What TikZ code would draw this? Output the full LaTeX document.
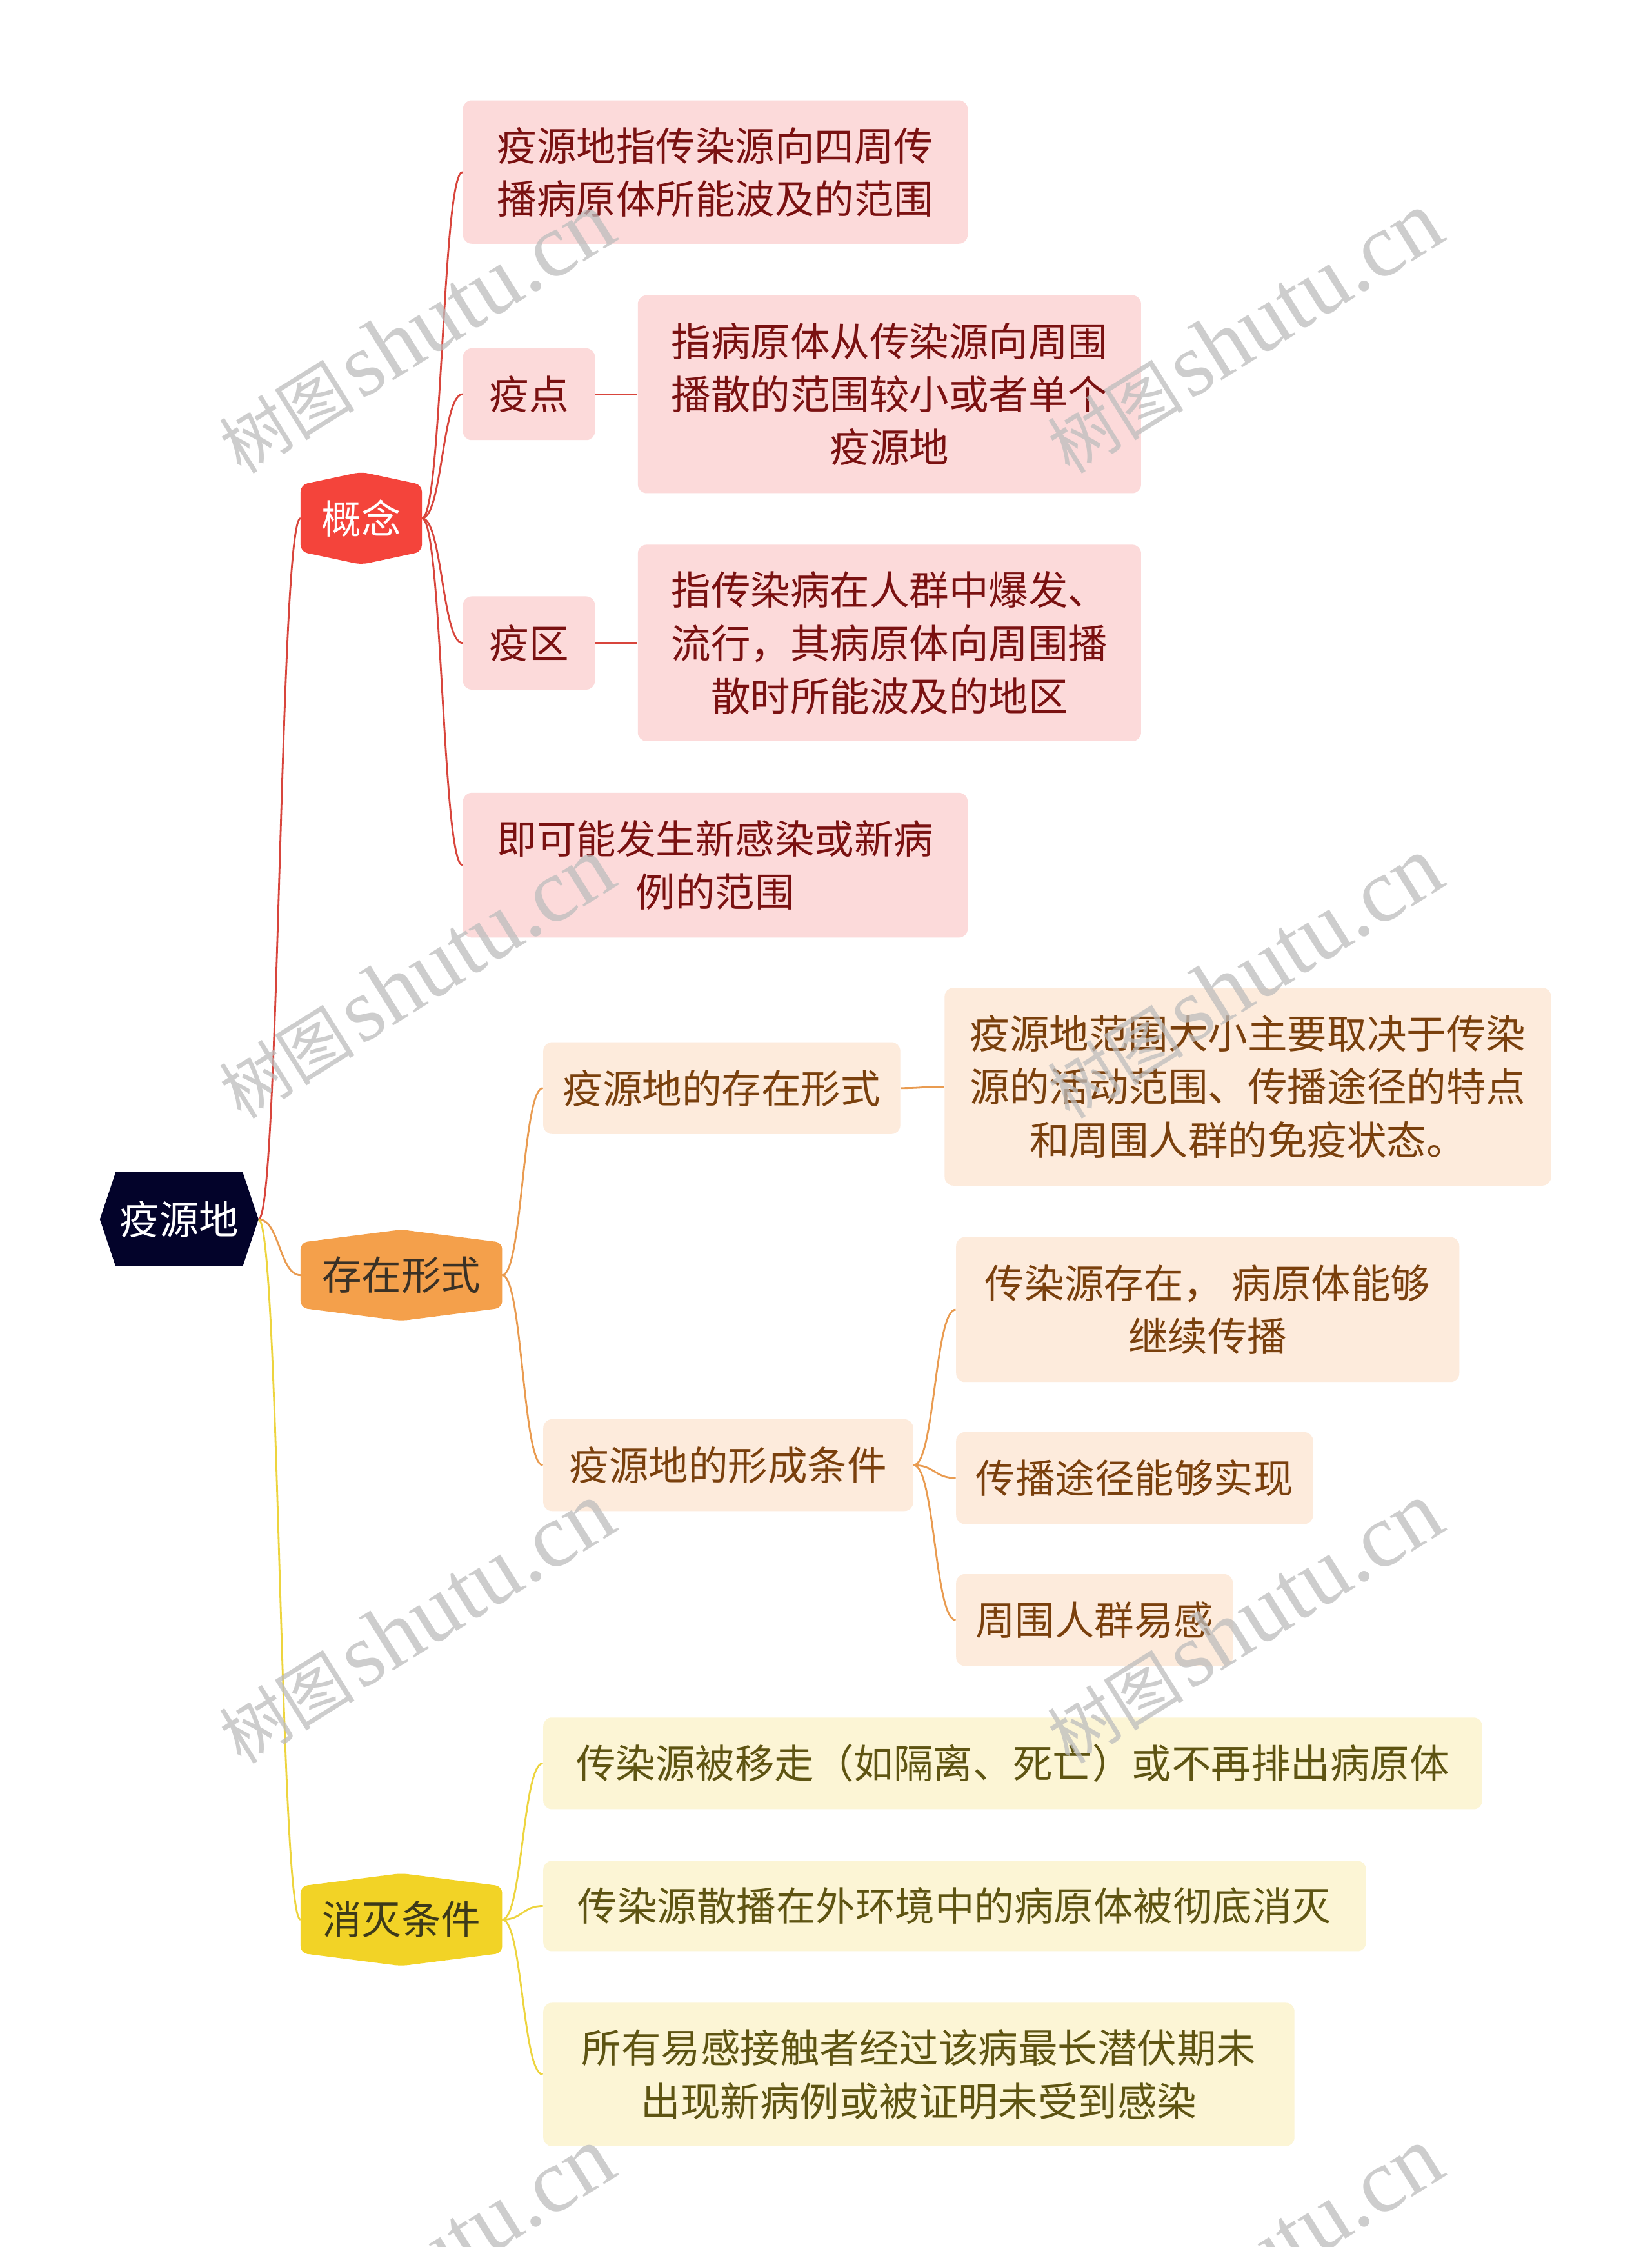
\documentclass[tikz,border=0pt]{standalone}
\usepackage{fontspec}
\setmainfont{Noto Sans CJK SC}
\newfontfamily\wmlatin{Liberation Serif}
\newfontfamily\wmcjk{Noto Sans CJK SC}
\usetikzlibrary{calc,backgrounds}
\newdimen\ux \ux=0.022222cm
\definecolor{rootfill}{HTML}{03032A}
\definecolor{redhex}{HTML}{F4443B}
\definecolor{pinkfill}{HTML}{FCDADA}
\definecolor{redtext}{HTML}{7A1111}
\definecolor{redline}{HTML}{D8453C}
\definecolor{orahex}{HTML}{F4A04B}
\definecolor{orahextext}{HTML}{3A3126}
\definecolor{orafill}{HTML}{FDEBDC}
\definecolor{oratext}{HTML}{7A400D}
\definecolor{oraline}{HTML}{E99B50}
\definecolor{yelhex}{HTML}{F2D326}
\definecolor{yelhextext}{HTML}{3D3A1A}
\definecolor{yelfill}{HTML}{FCF5D5}
\definecolor{yeltext}{HTML}{5E5412}
\definecolor{yelline}{HTML}{EDD43E}
\definecolor{wmgray}{HTML}{BDBDBD}
\tikzset{
  base/.style={inner sep=0pt, align=center, font=\fontsize{17.5pt}{23.4pt}\selectfont},
  sz/.style 2 args={minimum width=#1\ux, minimum height=#2\ux},
  pbox/.style={base, fill=pinkfill, text=redtext, rounded corners=6\ux},
  obox/.style={base, fill=orafill, text=oratext, rounded corners=6\ux},
  ybox/.style={base, fill=yelfill, text=yeltext, rounded corners=6\ux},
  rline/.style={draw=redline, line width=0.8pt},
  oline/.style={draw=oraline, line width=0.8pt},
  yline/.style={draw=yelline, line width=0.8pt},
  wm/.style={rotate=32, text=wmgray, opacity=0.75, inner sep=0pt}
}
\newcommand\conn[3]{\draw[#3] let \p1=(#1.east), \p2=(#2.west) in (\p1) .. controls ({(\x1+\x2)/2},\y1) and ({(\x1+\x2)/2},\y2) .. (\p2);}
\newcommand\hexv[3]{\fill[#2, rounded corners=3pt] (#1.north) -- ($(#1.north east)+(0,#3)$) -- ($(#1.south east)+(0,-#3)$) -- (#1.south) -- ($(#1.south west)+(0,-#3)$) -- ($(#1.north west)+(0,#3)$) -- cycle;}
\newcommand\wmtext{{\wmcjk\fontsize{30pt}{30pt}\selectfont 树图}\hspace{0.25em}{\wmlatin\fontsize{40pt}{40pt}\selectfont shutu.cn}}
\begin{document}
\begin{tikzpicture}[x=0.022222cm, y=-0.022222cm]
\useasboundingbox (0,0) rectangle (1152,1567.35);

% root and main topics
\node[base, sz={110}{65}, text=white] (R) at (125,850.5) {疫源地};
\node[base, sz={84}{64}, text=white] (K) at (252,361.5) {概念};
\node[base, sz={140}{63}, text=orahextext] (C) at (280,889.5) {存在形式};
\node[base, sz={140}{64}, text=yelhextext] (X) at (280,1339) {消灭条件};

% concept branch
\node[pbox, sz={352}{100}] (k1) at (499,120) {疫源地指传染源向四周传\\播病原体所能波及的范围};
\node[pbox, sz={92}{64}] (kp) at (369,275) {疫点};
\node[pbox, sz={351}{138}] (kpd) at (620.5,275) {指病原体从传染源向周围\\播散的范围较小或者单个\\疫源地};
\node[pbox, sz={92}{65}] (kq) at (369,448.5) {疫区};
\node[pbox, sz={351}{137}] (kqd) at (620.5,448.5) {指传染病在人群中爆发、\\流行，其病原体向周围播\\散时所能波及的地区};
\node[pbox, sz={352}{101}] (k4) at (499,603.5) {即可能发生新感染或新病\\例的范围};

% existence branch
\node[obox, sz={249}{64}] (c1) at (503.5,759) {疫源地的存在形式};
\node[obox, sz={423}{138}] (c1d) at (870.5,758) {疫源地范围大小主要取决于传染\\源的活动范围、传播途径的特点\\和周围人群的免疫状态。};
\node[obox, sz={258}{64}] (c2) at (508,1022) {疫源地的形成条件};
\node[obox, sz={351}{101}] (c21) at (842.5,913.5) {传染源存在， 病原体能够\\继续传播};
\node[obox, sz={249}{64}] (c22) at (791.5,1031) {传播途径能够实现};
\node[obox, sz={193}{64}] (c23) at (763.5,1130) {周围人群易感};

% elimination branch
\node[ybox, sz={655}{64}] (x1) at (706.5,1230) {传染源被移走（如隔离、死亡）或不再排出病原体};
\node[ybox, sz={574}{63}] (x2) at (666,1329.5) {传染源散播在外环境中的病原体被彻底消灭};
\node[ybox, sz={524}{100}] (x3) at (641,1447) {所有易感接触者经过该病最长潜伏期未\\出现新病例或被证明未受到感染};

\begin{scope}[on background layer]
  \fill[white] (0,0) rectangle (1152,1567.35);
  \conn{R}{K}{rline}
  \conn{R}{C}{oline}
  \conn{R}{X}{yline}
  \conn{K}{k1}{rline}
  \conn{K}{kp}{rline}
  \conn{K}{kq}{rline}
  \conn{K}{k4}{rline}
  \conn{kp}{kpd}{rline}
  \conn{kq}{kqd}{rline}
  \conn{C}{c1}{oline}
  \conn{C}{c2}{oline}
  \conn{c1}{c1d}{oline}
  \conn{c2}{c21}{oline}
  \conn{c2}{c22}{oline}
  \conn{c2}{c23}{oline}
  \conn{X}{x1}{yline}
  \conn{X}{x2}{yline}
  \conn{X}{x3}{yline}
  \fill[rootfill] (R.west) -- ($(R.north west)+(11,0)$) -- ($(R.north east)+(-11,0)$) -- (R.east) -- ($(R.south east)+(-11,0)$) -- ($(R.south west)+(11,0)$) -- cycle;
  \hexv{K}{redhex}{9}
  \hexv{C}{orahex}{9}
  \hexv{X}{yelhex}{9}
\end{scope}

% watermarks
\node[wm] (w1) at (290,232) {\wmtext};
\node[wm] (w2) at (868,232) {\wmtext};
\node[wm] (w3) at (290,682) {\wmtext};
\node[wm] (w4) at (868,682) {\wmtext};
\node[wm] (w5) at (290,1132) {\wmtext};
\node[wm] (w6) at (868,1132) {\wmtext};
\node[wm] (w7) at (290,1582) {\wmtext};
\node[wm] (w8) at (868,1582) {\wmtext};
\end{tikzpicture}
\end{document}
